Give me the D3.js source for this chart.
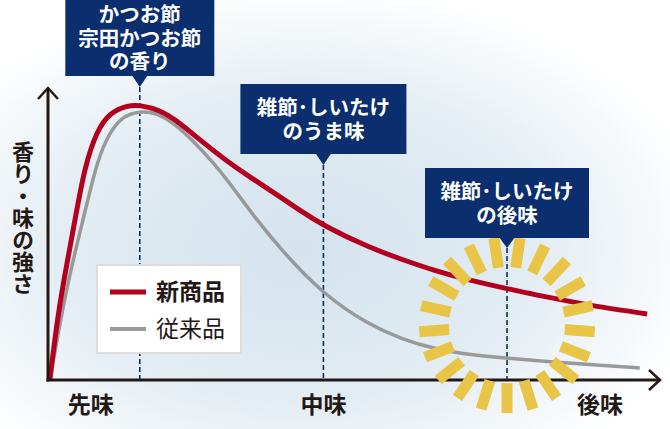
<!DOCTYPE html>
<html><head><meta charset="utf-8">
<script src="https://cdn.jsdelivr.net/npm/d3@7/dist/d3.min.js"></script>
<style>
html,body{margin:0;padding:0;background:#fff;}
svg{display:block;font-family:"Noto Sans CJK JP","Noto Sans",sans-serif;}
.boxtxt{font-family:"Liberation Sans","Noto Sans CJK JP",sans-serif;}
</style></head>
<body>
<svg id="c" width="670" height="429"></svg>
<script>
// ---- data ----
const newProduct = [ // 新商品 [time, strength]
  [0.3,0],[1.6,22.3],[3.1,40.0],[4.6,57.0],[6.0,73.0],[8.0,85.5],[10.1,91.5],[12.9,94.0],
  [15.0,94.2],[18.3,92.5],[21.6,88.0],[24.8,82.2],[29.2,75.0],[33.0,69.5],[37.4,63.5],
  [41.2,58.0],[44.9,53.0],[52.3,45.5],[57.8,41.3],[63.2,37.4],[68.6,34.3],[75.2,31.2],
  [79.6,29.2],[85.0,27.0],[90.5,24.9],[97.9,22.6]
];
const oldProduct = [ // 従来品
  [0.3,0],[3.1,33.0],[6.0,57.0],[8.0,75.0],[10.1,85.0],[12.3,90.5],[15.0,92.1],[17.8,91.4],
  [20.4,88.2],[23.7,82.0],[27.0,74.5],[30.2,66.0],[33.3,57.0],[38.4,43.8],[44.9,29.5],
  [52.3,19.0],[57.8,14.0],[63.2,10.6],[68.6,8.7],[75.2,7.4],[82.4,6.2],[90.5,5.0],[96.7,4.1]
];
const axisLabels = [{t:"先味",x:7},{t:"中味",x:45},{t:"後味",x:90.2}];
const yLabel = "香り・味の強さ";
const markers = [
  {x:15, lines:["かつお節","宗田かつお節","の香り"]},
  {x:45, lines:["雑節･しいたけ","のうま味"]},
  {x:75, lines:["雑節･しいたけ","の後味"]}
];
const legendItems = [{name:"新商品",key:"new"},{name:"従来品",key:"old"}];
const burst = {x:75, y:18.8, count:21};

// ---- layout ----
const svg = d3.select("#c");
const x = d3.scaleLinear().domain([0,100]).range([48,660]);
const y = d3.scaleLinear().domain([0,100]).range([380,88]);
const RED="#b3001e", GRAY="#999999", NAVY="#0b2e6e", INK="#231815", YEL="#e8c547";

// background
const defs = svg.append("defs");
const g1 = defs.append("radialGradient").attr("id","bg").attr("cx","0.45").attr("cy","0.58").attr("r","0.62");
g1.append("stop").attr("offset","0").attr("stop-color","#d4e3ed");
g1.append("stop").attr("offset","0.55").attr("stop-color","#e2ecf3");
g1.append("stop").attr("offset","1").attr("stop-color","#ffffff");
svg.append("rect").attr("width",670).attr("height",429).attr("fill","url(#bg)");

// dashed marker lines
const boxes = [
  {top:0,h:76,w:149,tip:87},
  {top:84,h:70,w:166,tip:165},
  {top:168,h:70,w:164,tip:248}
];
markers.forEach((m,i)=>{
  svg.append("line").attr("x1",x(m.x)).attr("x2",x(m.x))
    .attr("y1",boxes[i].tip).attr("y2",y(0))
    .attr("stroke",NAVY).attr("stroke-width",1.6).attr("stroke-dasharray","5,3");
});

// curves
const line = d3.line().x(d=>x(d[0])).y(d=>y(d[1])).curve(d3.curveBasis);
svg.append("path").datum(oldProduct).attr("d",line).attr("fill","none")
  .attr("stroke",GRAY).attr("stroke-width",3.5);
svg.append("path").datum(newProduct).attr("d",line).attr("fill","none")
  .attr("stroke",RED).attr("stroke-width",5);

// axes
svg.append("line").attr("x1",x(0)).attr("x2",x(0)).attr("y1",y(0)+1.5).attr("y2",y(100)+1)
  .attr("stroke",INK).attr("stroke-width",3);
svg.append("line").attr("x1",x(0)-1.5).attr("x2",x(100)-1).attr("y1",y(0)).attr("y2",y(0))
  .attr("stroke",INK).attr("stroke-width",3);
svg.append("path").attr("d",`M${x(0)-10},${y(100)+11}L${x(0)},${y(100)}L${x(0)+10},${y(100)+11}`)
  .attr("fill","none").attr("stroke",INK).attr("stroke-width",2.5);
svg.append("path").attr("d",`M${x(100)-11},${y(0)-10}L${x(100)},${y(0)}L${x(100)-11},${y(0)+10}`)
  .attr("fill","none").attr("stroke",INK).attr("stroke-width",2.5);

// starburst
const cx = x(burst.x), cy = y(burst.y);
svg.append("g").selectAll("rect").data(d3.range(burst.count)).join("rect")
  .attr("x",58).attr("y",-5.5).attr("width",30).attr("height",11)
  .attr("fill",YEL)
  .attr("transform",i=>`translate(${cx},${cy}) rotate(${90 + i*360/burst.count})`);

// axis labels
svg.append("g").selectAll("text").data(axisLabels).join("text")
  .attr("x",d=>x(d.x)).attr("y",413).attr("text-anchor","middle")
  .attr("font-size",23).attr("font-weight",700).attr("fill",INK).text(d=>d.t);
svg.append("text").attr("x",23).attr("y",218)
  .attr("writing-mode","vertical-rl").attr("text-anchor","middle")
  .attr("font-size",22).attr("font-weight",700).attr("fill",INK).text(yLabel);

// legend
svg.append("rect").attr("x",97).attr("y",265).attr("width",144).attr("height",88)
  .attr("fill","#ffffff").attr("stroke","#dddddd").attr("stroke-width",2);
legendItems.forEach((it,i)=>{
  const ly = 292 + i*37;
  svg.append("line").attr("x1",110).attr("x2",146).attr("y1",ly).attr("y2",ly)
    .attr("stroke",it.key==="new"?RED:GRAY).attr("stroke-width",it.key==="new"?5:4);
  svg.append("text").attr("x",156).attr("y",ly+8).attr("font-size",23)
    .attr("font-weight",it.key==="new"?700:400).attr("fill","#231815").text(it.name);
});

// marker boxes
markers.forEach((m,i)=>{
  const b = boxes[i], mx = x(m.x);
  const g = svg.append("g");
  g.append("rect").attr("x",mx-b.w/2).attr("y",b.top).attr("width",b.w).attr("height",b.h).attr("fill",NAVY);
  g.append("path").attr("d",`M${mx-8},${b.top+b.h-1}L${mx},${b.tip}L${mx+8},${b.top+b.h-1}Z`).attr("fill",NAVY);
  const lh = m.lines.length===3 ? 23.3 : 24;
  const c = b.top + b.h/2;
  m.lines.forEach((s,j)=>{
    g.append("text").attr("class","boxtxt").attr("x",mx)
      .attr("y",c + (j-(m.lines.length-1)/2)*lh + 7.5)
      .attr("text-anchor","middle").attr("font-size",20.5)
      .attr("font-weight",700).attr("fill","#ffffff").text(s);
  });
});
</script>
</body></html>
